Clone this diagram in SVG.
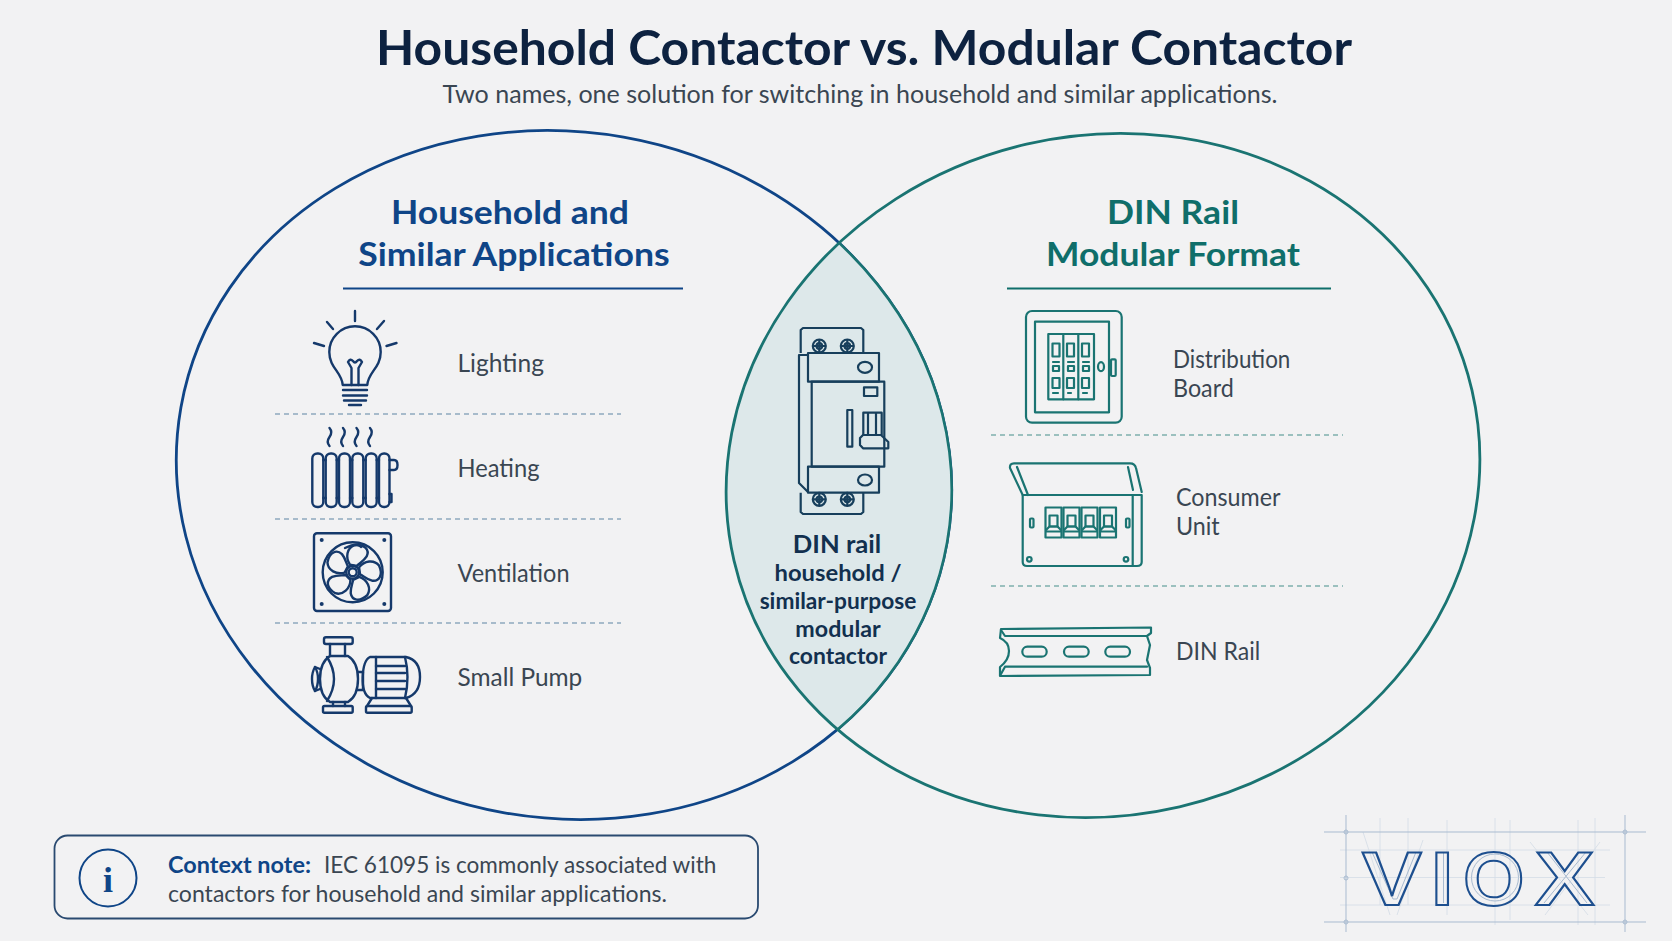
<svg xmlns="http://www.w3.org/2000/svg" width="1672" height="941" viewBox="0 0 1672 941">
<style>
text{font-family:"Lato","Noto Sans",sans-serif}
.t{fill:#3a4652;font-size:24.500px}
.hb{fill:#0f4587;font-size:33px;font-weight:700;text-anchor:middle}
.hg{fill:#0f6e6a;font-size:33px;font-weight:700;text-anchor:middle}
.c{fill:#12304f;font-size:23px;font-weight:700;text-anchor:middle}
.n{fill:none;stroke:#15396b;stroke-width:2.4;stroke-linecap:round;stroke-linejoin:round}
.g{fill:none;stroke:#1a7472;stroke-width:2.2;stroke-linecap:round;stroke-linejoin:round}
.b{fill:none;stroke:#173f5c;stroke-width:2.2;stroke-linejoin:round}
.db{stroke:#8fa9bf;stroke-width:1.3;stroke-dasharray:5 4}
.dg{stroke:#7fb0ad;stroke-width:1.3;stroke-dasharray:5 4}
.gl{stroke:#a9bbd0;stroke-width:1;fill:none}
.gf{stroke:#d3dce6;stroke-width:.8;fill:none}
</style>
<defs>
<clipPath id="cr"><ellipse cx="1103" cy="475.500" rx="378.700" ry="340" transform="rotate(-13 1103 475.500)"/></clipPath>
<path id="blade" d="M-4 -7C-10 -13 -10 -23 -3 -27C7 -30 13 -25 11 -18C9 -13 5 -10 3 -7Z"/>
<g id="screw"><circle r="6.500"/><circle r="2.800"/><path d="M-6.500 0H6.500M0 -6.500V6.500"/></g>
<g id="mcb"><rect x="-8" y="0" width="16" height="30"/><rect x="-4" y="8" width="8" height="11"/><path d="M-7 22L-4 19H4L7 22M-7 24H7"/></g>
</defs>
<rect width="1672" height="941" fill="#f2f2f3"/>
<g id="title">
<text x="864" y="65" text-anchor="middle" font-size="48" font-weight="700" fill="#0d2240" textLength="976" lengthAdjust="spacingAndGlyphs">Household Contactor vs. Modular Contactor</text>
<text x="860" y="103" text-anchor="middle" font-size="24.500" fill="#3a4652" textLength="835" lengthAdjust="spacingAndGlyphs">Two names, one solution for switching in household and similar applications.</text>
</g>
<g id="connectors">
<ellipse cx="564" cy="475" rx="389" ry="343" transform="rotate(10 564 475)" fill="none" stroke="#0f4587" stroke-width="2.800"/>
<g clip-path="url(#cr)"><ellipse cx="564" cy="475" rx="389" ry="343" transform="rotate(10 564 475)" fill="#dde8ea" stroke="#1a7472" stroke-width="2.600"/></g>
<ellipse cx="1103" cy="475.500" rx="378.700" ry="340" transform="rotate(-13 1103 475.500)" fill="none" stroke="#1a7472" stroke-width="2.800"/>
</g>
<g id="left-set">
<text class="hb" x="510" y="224" textLength="238" lengthAdjust="spacingAndGlyphs">Household and</text>
<text class="hb" x="514" y="266" textLength="311.400" lengthAdjust="spacingAndGlyphs">Similar Applications</text>
<line x1="343" y1="288.500" x2="683" y2="288.500" stroke="#0f4587" stroke-width="2"/>
<line class="db" x1="275" y1="414" x2="621" y2="414"/>
<line class="db" x1="275" y1="519" x2="621" y2="519"/>
<line class="db" x1="275" y1="623" x2="621" y2="623"/>
</g>
<g id="right-set">
<text class="hg" x="1173" y="224" textLength="132" lengthAdjust="spacingAndGlyphs">DIN Rail</text>
<text class="hg" x="1173" y="266" textLength="254" lengthAdjust="spacingAndGlyphs">Modular Format</text>
<line x1="1007" y1="288.500" x2="1331" y2="288.500" stroke="#0f6e6a" stroke-width="2"/>
<line class="dg" x1="991" y1="435" x2="1343" y2="435"/>
<line class="dg" x1="991" y1="586" x2="1343" y2="586"/>
</g>
<g id="lighting">
<g class="n">
<path d="M342.700 385C342 372 329.300 368 329.300 352A25.700 25.700 0 0 1 380.700 352C380.700 368 368 372 367.300 385Z"/>
<path d="M355 311V321M327 322L333 329M384 321L377 329M314 343L324 346M396.500 343L386.500 346"/>
<path d="M351.500 385V368L348 362Q350 358 353 361Q355 364 357 361Q360 358 362 362L358.500 368V385"/>
<path d="M343 390H367M343 395.500H367M344 400.500H366M349 405H361"/>
</g>
<text class="t" x="457.500" y="372" textLength="86.400" lengthAdjust="spacingAndGlyphs">Lighting</text>
</g>
<g id="heating">
<g class="n">
<path d="M329.500 428q3.500 4 0 9t0 9M343 428q3.500 4 0 9t0 9M356.500 428q3.500 4 0 9t0 9M370 428q3.500 4 0 9t0 9"/>
<rect x="312.300" y="453.500" width="11" height="53.500" rx="5"/>
<rect x="325.700" y="453.500" width="11" height="53.500" rx="5"/>
<rect x="339" y="453.500" width="11" height="53.500" rx="5"/>
<rect x="352.300" y="453.500" width="11" height="53.500" rx="5"/>
<rect x="365.700" y="453.500" width="11" height="53.500" rx="5"/>
<rect x="379" y="453.500" width="10.500" height="53.500" rx="5"/>
<path d="M323.300 460H325.700M336.700 460H339M350 460H352.300M363.300 460H365.700M376.700 460H379M323.300 498H325.700M336.700 498H339M350 498H352.300M363.300 498H365.700M376.700 498H379"/>
<path d="M389.500 460H394Q397.500 460 397.500 465T394 470H389.500M389.500 494H391.500V502H389.500"/>
</g>
<text class="t" x="457.500" y="477" textLength="82" lengthAdjust="spacingAndGlyphs">Heating</text>
</g>
<g id="ventilation">
<g class="n">
<rect x="314" y="533.300" width="77" height="77.700" rx="3"/>
<circle cx="352.700" cy="572.300" r="30"/>
<path d="M345 548Q358 542 361 547"/>
<circle cx="352.700" cy="572.300" r="6.500"/>
<circle cx="352.700" cy="572.300" r="4"/>
<g transform="translate(352.700 572.300) rotate(10)"><use href="#blade"/><use href="#blade" transform="rotate(72)"/><use href="#blade" transform="rotate(144)"/><use href="#blade" transform="rotate(216)"/><use href="#blade" transform="rotate(288)"/></g>
</g>
<g fill="#15396b"><circle cx="321.700" cy="540" r="2"/><circle cx="384.300" cy="540" r="2"/><circle cx="321.700" cy="604" r="2"/><circle cx="384.300" cy="604" r="2"/></g>
<text class="t" x="457.500" y="582" textLength="112" lengthAdjust="spacingAndGlyphs">Ventilation</text>
</g>
<g id="small-pump">
<g class="n">
<rect x="324" y="637.300" width="28.700" height="6.700" rx="2"/>
<path d="M330 644V656M345 644V656"/>
<path d="M330 656H348Q358 662 358 679T348 702H330Q320 696 320 679T330 656Z"/>
<path d="M327 657Q334 668 334 679T327 701"/>
<path d="M320 669L315 667Q312 672 312 679T315 691L320 689"/>
<path d="M315 667Q318 672 318 679T315 691"/>
<path d="M333 702V706M345 702V706"/>
<rect x="323" y="706" width="29.700" height="6.700" rx="1.500"/>
<path d="M358 672H363V690H358"/>
<path d="M370 657H406Q420 660 420 677T406 698H370Q362 694 362.700 677T370 657Z"/>
<path d="M405 657Q410 677 405 698"/>
<path d="M376 657V698"/>
<path d="M376 666H405M376 673H405M376 681H405M376 689H405"/>
<path d="M372 698L367 706M406 698L411 706"/>
<rect x="366" y="706" width="45.700" height="6.700" rx="1.500"/>
</g>
<text class="t" x="457.500" y="686" textLength="124.800" lengthAdjust="spacingAndGlyphs">Small Pump</text>
</g>
<g id="din-rail-contactor">
<g class="b">
<path d="M800.700 353V330L803 328H861L863.300 330V353"/>
<path d="M808 353H879V381.700H808ZM808 466.700H879V492.700H808Z"/>
<path d="M811.700 381.700H884.300V466.700H811.700Z"/>
<path d="M808 355H799V483L808 492"/>
<path d="M800.700 492.700V512L803 514H861L863.300 512V492.700"/>
<use href="#screw" x="819.300" y="346"/><use href="#screw" x="847.300" y="346"/>
<use href="#screw" x="819.300" y="499.300"/><use href="#screw" x="847.300" y="499.300"/>
<ellipse cx="865" cy="367.300" rx="7" ry="5.500"/><ellipse cx="865" cy="480" rx="7" ry="5.500"/>
<rect x="864" y="387.300" width="13.300" height="8.700"/>
<rect x="847.300" y="410" width="5" height="36.700"/>
<path d="M863.300 435V412.700H881.700V435M868 412.700V435M876 412.700V435"/>
<path d="M863 435H881L888.300 442V448.300H863L860 445V438Z"/>
</g>
<text class="c" x="837" y="553" style="font-size:25px" textLength="88.500" lengthAdjust="spacingAndGlyphs">DIN rail</text>
<text class="c" x="838" y="581" textLength="127" lengthAdjust="spacingAndGlyphs">household /</text>
<text class="c" x="838" y="609" textLength="156.700" lengthAdjust="spacingAndGlyphs">similar-purpose</text>
<text class="c" x="838" y="637" textLength="85.300" lengthAdjust="spacingAndGlyphs">modular</text>
<text class="c" x="838" y="664" textLength="98" lengthAdjust="spacingAndGlyphs">contactor</text>
</g>
<g id="distribution-board">
<g class="g">
<rect x="1026" y="311" width="95.700" height="111.700" rx="6"/>
<rect x="1035" y="321.700" width="74" height="90.600"/>
<rect x="1048.300" y="334" width="45.700" height="65.300"/>
<path d="M1063.300 334V399.300M1078.300 334V399.300"/>
<ellipse cx="1101" cy="366.700" rx="3" ry="4.500"/>
<rect x="1111" y="359.300" width="4.700" height="16.700" rx="1"/>
<path d="M1052.500 343.500h7v13h-7zM1067 343.500h7v13h-7zM1082 343.500h7v13h-7zM1052.500 378h7v10h-7zM1067 378h7v10h-7zM1082 378h7v10h-7zM1053 362h6M1068 362h6M1083 362h6M1053 366h6v5h-6zM1068 366h6v5h-6zM1083 366h6v5h-6zM1053 393h5M1068 393h3M1083 393h4"/>
</g>
<text class="t" x="1173" y="368" textLength="117.300" lengthAdjust="spacingAndGlyphs">Distribution</text>
<text class="t" x="1173" y="396.500" textLength="60.800" lengthAdjust="spacingAndGlyphs">Board</text>
</g>
<g id="consumer-unit">
<g class="g">
<path d="M1022.700 495L1010 468Q1009.500 463.300 1014 463.300H1130Q1135 463.300 1136 468L1141.700 492"/>
<path d="M1017 467L1028 495M1128 467L1133 490"/>
<path d="M1022.700 495H1141.700V562Q1141.700 566 1137 566H1027Q1022.700 566 1022.700 562Z"/>
<path d="M1132.700 495V566"/>
<rect x="1030" y="518.500" width="3.500" height="9" rx="1"/><rect x="1126" y="518.500" width="3.500" height="9" rx="1"/>
<circle cx="1029.300" cy="559.300" r="2.300"/><circle cx="1126" cy="559.300" r="2.300"/>
<use href="#mcb" x="1053.500" y="507.500"/><use href="#mcb" x="1071.500" y="507.500"/><use href="#mcb" x="1089.500" y="507.500"/><use href="#mcb" x="1108" y="507.500"/>
</g>
<text class="t" x="1176" y="506" textLength="104.500" lengthAdjust="spacingAndGlyphs">Consumer</text>
<text class="t" x="1176" y="535" textLength="43.700" lengthAdjust="spacingAndGlyphs">Unit</text>
</g>
<g id="din-rail">
<g class="g">
<path d="M1001 629L1151 627.500V633L1147 636L1150 645L1147 660L1150 668V675L1000 676V667Q1009 660 1009 651T1000 638Z"/>
<path d="M1001 630L1005 636H1147M1001 674L1005 666.700H1147"/>
<rect x="1022.300" y="646.700" width="24.400" height="10" rx="5"/>
<rect x="1064" y="646.700" width="24.700" height="10" rx="5"/>
<rect x="1105.300" y="646.700" width="24.700" height="10" rx="5"/>
</g>
<text class="t" x="1176" y="660" textLength="84.200" lengthAdjust="spacingAndGlyphs">DIN Rail</text>
</g>
<g id="context-note">
<rect x="54.500" y="835.500" width="703.500" height="83" rx="13" fill="none" stroke="#2a4a70" stroke-width="1.800"/>
<circle cx="108" cy="878" r="28.500" fill="none" stroke="#0f4587" stroke-width="2"/>
<text x="108" y="892" text-anchor="middle" font-size="36" font-weight="700" fill="#0f4587" style="font-family:'Liberation Serif',serif">i</text>
<text x="168" y="873" font-size="23" font-weight="700" fill="#0f4587" textLength="143" lengthAdjust="spacingAndGlyphs">Context note:</text>
<text x="324" y="873" font-size="23" fill="#3a4652" textLength="392.400" lengthAdjust="spacingAndGlyphs">IEC 61095 is commonly associated with</text>
<text x="168" y="902" font-size="23" fill="#3a4652" textLength="499" lengthAdjust="spacingAndGlyphs">contactors for household and similar applications.</text>
</g>
<g id="viox-logo">
<path class="gf" d="M1380 818V905M1408 818V905M1447 820V915M1495 818V925M1510 820V920M1578 820V925M1595 818V925M1363 832L1390 915M1423 840L1397 915M1530 842L1588 915M1600 842L1545 915"/>
<path class="gf" d="M1340 850H1610M1340 877.500H1605M1340 905H1610"/>
<path class="gl" d="M1324 832H1646M1324 922H1646M1346 815V932M1625 815V932"/>
<g class="gl"><circle cx="1346" cy="832" r="2"/><circle cx="1625" cy="832" r="2"/><circle cx="1346" cy="922" r="2"/><circle cx="1625" cy="922" r="2"/><circle cx="1346" cy="878" r="2"/></g>
<path class="gl" d="M1372 852L1393 899H1397L1416 852M1443.500 852V903"/>
<circle class="gl" cx="1495" cy="877.500" r="23.500"/>
<path class="gl" d="M1547 852L1587 903M1586 852L1544 903"/>
<g fill="none" stroke="#1d4f8f" stroke-width="2">
<text transform="translate(1362 905) scale(1.180 1)" x="0" y="0" font-size="76" font-weight="700" style="font-family:'Liberation Sans',sans-serif">V</text>
<text transform="translate(1431 905) scale(1.060 1)" x="0" y="0" font-size="76" font-weight="700" style="font-family:'Liberation Sans',sans-serif">I</text>
<text transform="translate(1463 905) scale(1.040 1)" x="0" y="0" font-size="76" font-weight="700" style="font-family:'Liberation Sans',sans-serif">O</text>
<text transform="translate(1535 905) scale(1.170 1)" x="0" y="0" font-size="76" font-weight="700" style="font-family:'Liberation Sans',sans-serif">X</text>
</g>
</g>
</svg>
